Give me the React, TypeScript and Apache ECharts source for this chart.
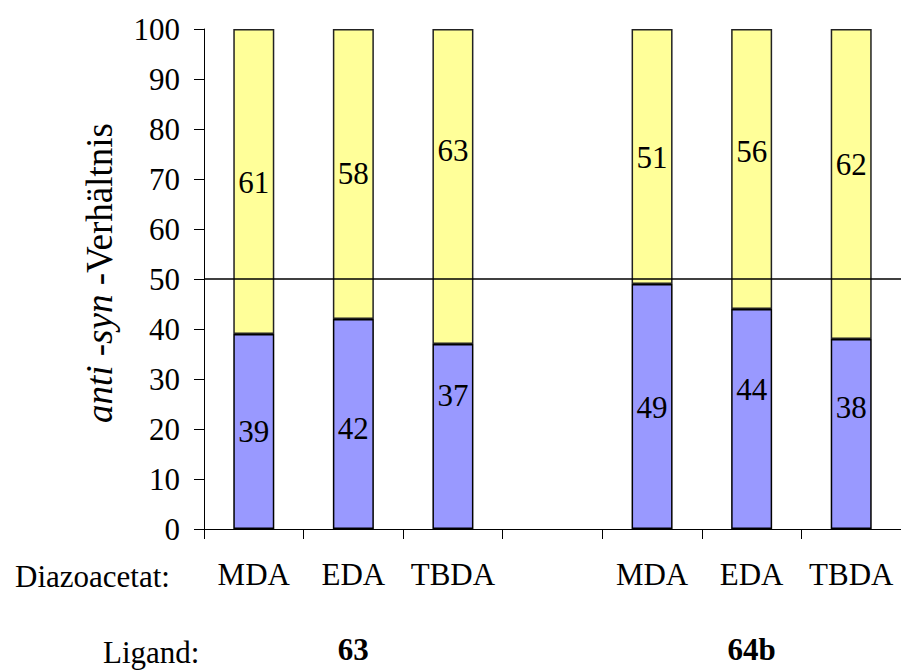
import React, { useEffect, useRef } from "react";
import * as echarts from "echarts";

const categories = ["MDA", "EDA", "TBDA", "", "MDA", "EDA", "TBDA"];
const ligandLabels = ["", "63", "", "", "", "64b", ""];
const synValues: (number | null)[] = [39, 42, 37, null, 49, 44, 38];
const antiValues: (number | null)[] = [61, 58, 63, null, 51, 56, 62];
const yTicks = { min: 0, max: 100, interval: 10 };
const referenceLine = 50;

// label nudges (pixels) to mimic the original manual label placement
const synLabelNudge = [0, 4, -41, 0, 1, -30, -27];
const antiLabelNudge = [1, -1, -36, 0, 1, -18, -20];

const FONT = "Liberation Serif";
const FS = 31;
const TITLE_FS = 37;

export default function App() {
  const ref = useRef<HTMLDivElement>(null);
  useEffect(() => {
    if (!ref.current) return;
    const chart = echarts.init(ref.current, undefined, { renderer: "svg" });
    const mk = (vals: (number | null)[], nudge: number[]) =>
      vals.map((v, i) =>
        v === null
          ? "-"
          : { value: v, label: { offset: [0, nudge[i]] } }
      );
    chart.setOption({
      animation: false,
      textStyle: { fontFamily: FONT },
      grid: { left: 204, top: 29, bottom: 141, right: -2, containLabel: false },
      xAxis: [
        {
          type: "category",
          data: categories,
          boundaryGap: true,
          axisLine: { lineStyle: { color: "#000", width: 1 } },
          axisTick: { show: true, length: 10, lineStyle: { color: "#000" }, alignWithLabel: false },
          axisLabel: { color: "#000", fontSize: FS, fontFamily: FONT, margin: 30, interval: 0 },
        },
        {
          type: "category",
          data: ligandLabels,
          position: "bottom",
          offset: 75,
          boundaryGap: true,
          axisLine: { show: false },
          axisTick: { show: false },
          axisLabel: { color: "#000", fontSize: FS, fontWeight: "bold", fontFamily: FONT, margin: 30, interval: 0 },
        },
      ],
      yAxis: {
        type: "value",
        min: yTicks.min,
        max: yTicks.max,
        interval: yTicks.interval,
        splitLine: { show: false },
        axisLine: { show: true, lineStyle: { color: "#000", width: 1 } },
        axisTick: { show: true, length: 10, lineStyle: { color: "#000" } },
        axisLabel: { color: "#000", fontSize: FS, fontFamily: FONT, margin: 24 },
        name: "{i|anti} -{i|syn} -Verhältnis",
        nameLocation: "middle",
        nameRotate: 90,
        nameGap: 86,
        nameTextStyle: {
          color: "#000",
          fontSize: TITLE_FS,
          fontFamily: FONT,
          padding: [0, 0, 0, 12],
          rich: { i: { fontStyle: "italic", fontSize: TITLE_FS, fontFamily: FONT, color: "#000" } },
        },
      },
      series: [
        {
          type: "bar",
          stack: "total",
          xAxisIndex: 0,
          barWidth: 41,
          data: mk(synValues, synLabelNudge),
          itemStyle: { color: "#9999FF", borderColor: "#000", borderWidth: 1.5 },
          label: { show: true, position: "inside", color: "#000", fontSize: FS, fontFamily: FONT },
          markLine: {
            silent: true,
            symbol: "none",
            label: { show: false },
            lineStyle: { color: "#000", width: 1.5, type: "solid" },
            data: [{ yAxis: referenceLine }],
          },
        },
        {
          type: "bar",
          stack: "total",
          xAxisIndex: 0,
          barWidth: 41,
          data: mk(antiValues, antiLabelNudge),
          itemStyle: { color: "#FFFF99", borderColor: "#222", borderWidth: 1.5 },
          label: { show: true, position: "inside", color: "#000", fontSize: FS, fontFamily: FONT },
        },
      ],
      graphic: [
        {
          type: "text",
          left: 15,
          top: 561,
          style: { text: "Diazoacetat:", fontSize: FS, fontFamily: FONT, fill: "#000" },
        },
        {
          type: "text",
          left: 103,
          top: 637,
          style: { text: "Ligand:", fontSize: FS, fontFamily: FONT, fill: "#000" },
        },
      ],
    });
    return () => chart.dispose();
  }, []);
  return (
    <div
      ref={ref}
      style={{ position: "absolute", left: 0, top: 0, width: 901, height: 670 }}
    />
  );
}
